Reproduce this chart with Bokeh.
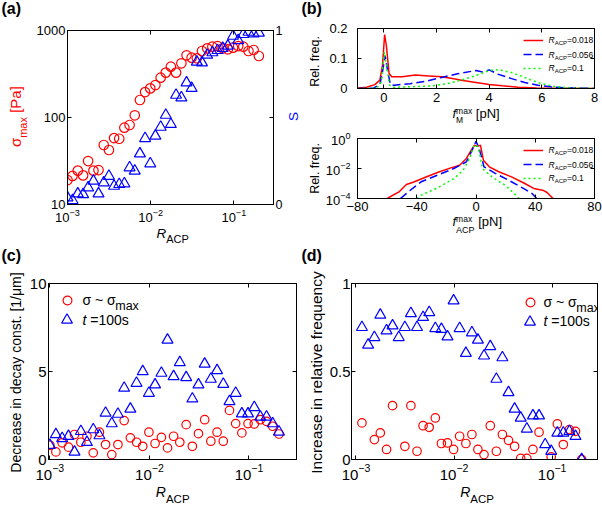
import math
from bokeh.plotting import figure
from bokeh.models import (Range1d, LinearAxis, LogAxis, FixedTicker, Label, Legend, LegendItem,
                          LinearScale, PrintfTickFormatter, CustomJSTickFormatter)
from bokeh.layouts import row, column
from bokeh.embed import file_html
from bokeh.resources import INLINE

# ---------------- data ----------------
r_acp = [0.00100, 0.00115, 0.00133, 0.00154, 0.00177, 0.00205, 0.00236, 0.00273, 0.00315, 0.00363,
         0.00419, 0.00483, 0.00558, 0.00644, 0.00743, 0.00857, 0.00989, 0.0114, 0.0132, 0.0152,
         0.0175, 0.0202, 0.0234, 0.0270, 0.0311, 0.0359, 0.0414, 0.0478, 0.0552, 0.0637,
         0.0735, 0.0848, 0.0978, 0.113, 0.130, 0.150, 0.173, 0.200]
r_acp_d = r_acp[1:]

sigma_max = [19.1, 21.3, 24.5, 21.6, 31.6, 24.5, 24.9, 48.3, 42.3, 58.0, 57.0, 76.4, 82.0, 106, 159,
             196, 216, 236, 287, 328, 384, 328, 420, 519, 487, 479, 581, 624, 652, 663, 624, 608,
             635, 663, 652, 581, 597, 509]
s_order = [0.039, 0.024, 0.062, 0.058, 0.097, 0.135, 0.062, 0.125, 0.163, 0.106, 0.116, 0.120,
           0.212, 0.193, 0.292, 0.380, 0.235, 0.394, 0.445, 0.514, 0.461, 0.629, 0.614, 0.700,
           0.668, 0.819, 0.815, 0.859, 0.873, 0.886, 0.898, 0.911, 0.968, 0.943, 0.978, 0.991,
           0.982, 0.986]

fm_x_018 = [-1, -0.65, -0.34, -0.15, -0.05, 0.03, 0.1, 0.2, 0.3, 0.7, 1.2, 1.7, 2.2, 2.6, 3.0,
            3.5, 4.0, 4.5, 5.1, 5.8, 6.8, 8.0]
fm_y_018 = [0.002, 0.004, 0.013, 0.028, 0.078, 0.18, 0.14, 0.05, 0.039, 0.039, 0.045, 0.042,
            0.039, 0.033, 0.027, 0.02, 0.013, 0.009, 0.0045, 0.002, 0.001, 0.0]
fm_x_056 = [-1, -0.4, -0.15, -0.05, 0.05, 0.15, 0.25, 0.4, 1.0, 1.6, 2.2, 2.8, 3.5, 3.75, 4.0,
            4.35, 4.85, 5.35, 5.85, 6.35, 6.95, 8.0]
fm_y_056 = [0.0, 0.001, 0.013, 0.056, 0.109, 0.056, 0.013, 0.011, 0.016, 0.024, 0.037, 0.049,
            0.06, 0.055, 0.062, 0.047, 0.033, 0.02, 0.011, 0.0056, 0.002, 0.0]
fm_x_1 = [-1, -0.27, -0.09, 0.02, 0.1, 0.22, 0.35, 1.1, 1.85, 2.45, 2.95, 3.45, 3.95, 4.2, 4.45,
          4.85, 5.2, 5.6, 5.95, 6.45, 7.05, 8.0]
fm_y_1 = [0.0, 0.001, 0.022, 0.122, 0.078, 0.011, 0.004, 0.006, 0.009, 0.017, 0.028, 0.042,
          0.058, 0.063, 0.061, 0.053, 0.042, 0.028, 0.017, 0.007, 0.002, 0.0]

fa_x_018 = [-60, -52, -47, -42, -35, -26, -17, -11, -6.5, -3, -1, 1, 3, 5, 9, 15, 24, 32, 39,
            45, 48, 52]
fa_y_018 = [1e-4, 2.75e-4, 8.5e-4, 1.26e-3, 2.4e-3, 5.4e-3, 0.011, 0.0166, 0.047, 0.18, 0.36,
            0.3, 0.36, 0.036, 0.0129, 0.0063, 0.00275, 0.00112, 0.00047, 0.00036, 0.00025, 1e-4]
fa_x_056 = [-51, -45, -37, -26, -15, -6.5, -2.6, 0, 2.2, 5.4, 13, 22, 32, 38, 41]
fa_y_056 = [1e-4, 3.2e-4, 1.3e-3, 3.6e-3, 0.01, 0.0275, 0.166, 0.66, 0.21, 0.013, 0.0047,
            0.00166, 0.00047, 0.00021, 1e-4]
fa_x_1 = [-40, -37, -26, -15, -8.6, -4.3, -1.7, 0.4, 2.2, 4.3, 10.8, 19.5, 26, 29]
fa_y_1 = [1e-4, 1.66e-4, 5.1e-4, 2.1e-3, 7.8e-3, 0.047, 0.275, 0.4, 0.129, 0.01, 0.00275,
          7.8e-4, 2.1e-4, 1e-4]

decay_sigma = [0.81, 0.43, 0.95, 0.70, 1.42, 0.98, 1.32, 0.38, 1.55, 0.85, 0.28, 0.85, 2.21, 1.23,
               0.98, 0.75, 1.55, 0.91, 1.26, 0.66, 1.32, 0.98, 1.98, 0.75, 1.47, 2.26, 1.04, 1.55,
               1.04, 2.79, 2.04, 1.51, 2.04, 2.02, 2.26, 2.17, 1.89, 1.45]
decay_t100 = [0.81, 1.42, 1.20, 1.32, 0.43, 1.60, 0.98, 1.70, 1.36, 2.64, 2.04, 2.58, 4.06, 2.87,
              4.34, 5.0, 3.77, 4.25, 4.91, 6.79, 4.72, 5.51, 4.66, 3.45, 4.25, 5.43, 4.57, 5.06,
              4.28, 3.30, 3.77, 2.60, 2.60, 2.96, 2.42, 2.42, 2.04, 1.57]

NaN = float("nan")
freq_sigma = [0.208, NaN, 0.113, 0.151, 0.057, 0.306, NaN, 0.075, 0.306, 0.047, 0.192, 0.183,
              0.236, 0.091, 0.094, 0.057, 0.132, 0.091, 0.142, 0.057, 0.028, 0.192, 0.047, 0.142,
              0.109, 0.075, 0.006, 0.006, 0.057, 0.155, NaN, 0.015, 0.202, 0.085, 0.170, 0.160, 0.0]
freq_t100 = [0.751, 0.651, 0.694, 0.821, 0.732, 0.760, 0.694, 0.751, 0.830, 0.751, 0.808, 0.836,
             0.745, 0.740, 0.698, 0.902, 0.745, 0.604, 0.721, 0.679, 0.589, 0.642, 0.457, 0.579,
             0.381, 0.287, 0.236, 0.174, 0.249, 0.249, 0.085, 0.047, 0.151, 0.151, 0.160, 0.132,
             0.0]

legend_vals = ["0.018", "0.056", "0.1"]

# ---------------- helpers ----------------
FONT = "Liberation Sans"
MID = 0.3465  # distance baseline -> middle of the text box, in em

CW = {' ': .278, '(': .333, ')': .333, '.': .278, '/': .278, '=': .584, '~': .584, '[': .278,
      ']': .278, '-': .333, 'A': .667, 'C': .722, 'D': .722, 'I': .278, 'M': .833, 'N': .722,
      'P': .667, 'R': .722, 'S': .667, 'a': .556, 'b': .556, 'c': .5, 'd': .556, 'e': .556,
      'f': .278, 'i': .222, 'l': .222, 'm': .833, 'n': .556, 'o': .556, 'p': .556, 'q': .556,
      'r': .333, 's': .5, 't': .278, 'u': .556, 'v': .5, 'x': .5, 'y': .5, 'σ': .6, 'μ': .576}


def tw(s, size):
    return sum(CW.get(c, .556) for c in s) * size


def make_panel(left, top, w, h, bl, br, bt, bb, xr, yr, xt="linear", yt="linear"):
    p = figure(width=w, height=h, x_range=xr, y_range=yr, x_axis_type=xt, y_axis_type=yt,
               output_backend="svg", toolbar_location=None,
               min_border_left=bl, min_border_right=br, min_border_top=bt, min_border_bottom=bb)
    p.grid.visible = False
    p.outline_line_color = "black"
    p.outline_line_width = 1
    p.background_fill_color = "white"
    p.border_fill_color = "white"
    fh = h - bt - bb
    return p, (left + bl, top + bt + fh)


def make_strip(left, top, w, h, bl=0, br=0):
    """text-only figure; bl/br equal to the plot above it so that aligned borders match"""
    p = figure(width=w, height=h, x_range=Range1d(0, 1), y_range=Range1d(0, 1),
               x_axis_location=None, y_axis_location=None, output_backend="svg",
               toolbar_location=None, min_border=0, min_border_left=bl, min_border_right=br,
               min_border_top=0, min_border_bottom=0)
    p.grid.visible = False
    p.outline_line_color = None
    p.background_fill_color = "white"
    p.border_fill_color = "white"
    return p, (left + bl, top + h)


def style(ax, ticks, size, standoff, labels=True):
    ax.ticker = FixedTicker(ticks=ticks, minor_ticks=[])
    ax.major_tick_in = 4
    ax.major_tick_out = 0
    ax.minor_tick_in = 0
    ax.minor_tick_out = 0
    ax.axis_line_color = "black"
    ax.major_tick_line_color = "black"
    ax.major_label_text_font = FONT
    ax.major_label_text_font_size = f"{size}px"
    ax.major_label_text_color = "black"
    ax.major_label_standoff = standoff
    if not labels:
        ax.formatter = CustomJSTickFormatter(code="return ''")
        ax.major_label_standoff = 0


def mirror(p, side, ticks, log=False):
    ax = LogAxis() if log else LinearAxis()
    style(ax, ticks, 1, 0, labels=False)
    p.add_layout(ax, side)


def rich(p, frame, x, y, parts, color="black", vertical=False, center=False):
    """parts: (text, size, style, baseline shift, mode) - mode n: advance, 0: none, s: stacked.
    x, y: start of the baseline (page pixels)."""
    fl, fb = frame
    total, pend = 0.0, 0.0
    for t, s, st, dy, mode in parts:
        w = tw(t, s)
        if mode == "0":
            pend = w
        elif mode == "s":
            total += max(w, pend)
            pend = 0
        else:
            total += w
    px0, py0 = x, y
    if center:
        if vertical:
            py0 += total / 2
        else:
            px0 -= total / 2
    adv, pend = 0.0, 0.0
    for t, s, st, dy, mode in parts:
        w = tw(t, s)
        body = t.lstrip(" ")
        lead = tw(t[:len(t) - len(body)], s)
        if vertical:
            qx = px0 + dy - MID * s
            qy = py0 - adv - lead - tw(body, s) / 2
            lab = Label(x=qx - fl, y=fb - qy, x_units="screen", y_units="screen", text=body,
                        angle=math.pi / 2, text_font=FONT, text_font_size=f"{s}px",
                        text_font_style=st, text_color=color, text_align="center",
                        text_baseline="middle")
        else:
            qx, qy = px0 + adv + lead, py0 + dy - MID * s
            lab = Label(x=qx - fl, y=fb - qy, x_units="screen", y_units="screen", text=body,
                        angle=0.0, text_font=FONT, text_font_size=f"{s}px",
                        text_font_style=st, text_color=color, text_align="left",
                        text_baseline="middle")
        p.add_layout(lab)
        if mode == "0":
            pend = w
        elif mode == "s":
            adv += max(w, pend)
            pend = 0
        else:
            adv += w


def legend_glyph(p, frame, renderer, cx, cy, gw, gh):
    fl, fb = frame
    x = cx - fl - gw / 2
    y = fb - cy - gh / 2
    lg = Legend(items=[LegendItem(label=" ", renderers=[renderer])], location=(x, y),
                orientation="vertical", padding=0, margin=0, spacing=0,
                glyph_width=gw, glyph_height=gh, label_standoff=0, label_width=0,
                label_height=0, label_text_font_size="1px", border_line_color=None,
                background_fill_color=None, background_fill_alpha=0)
    p.add_layout(lg)


def racp(p, frame, x, y, dy=6.0, size=14, sub=11.5):
    rich(p, frame, x, y, [("R", size, "italic", 0, "n"), ("ACP", sub, "normal", dy, "n")])


def letter(p, frame, x, y, t):
    rich(p, frame, x, y, [(t, 16, "bold", 0, "n")])


# ---------------- panel (a) ----------------
sla, f_sla = make_strip(0, 0, 33, 246)
pa, fa = make_panel(33, 0, 252, 224, 32, 9, 30, 20, Range1d(1e-3, 0.3), Range1d(10, 1000),
                    "log", "log")
sba, f_sba = make_strip(33, 224, 252, 22, 32, 9)
sra, f_sra = make_strip(285, 0, 15, 246)

pa.extra_y_ranges = {"s": Range1d(0, 1)}
pa.extra_y_scales = {"s": LinearScale()}
style(pa.xaxis[0], [1e-3, 1e-2, 1e-1], 13, 4)
style(pa.yaxis[0], [10, 100, 1000], 13, 2)
pa.yaxis[0].formatter = PrintfTickFormatter(format="%d")
ax_s = LinearAxis(y_range_name="s")
style(ax_s, [0, 0.5, 1], 12.5, 2)
ax_s.major_label_overrides = {0: "0", 0.5: "", 1: "1"}
pa.add_layout(ax_s, "right")
mirror(pa, "above", [1e-3, 1e-2, 1e-1], log=True)
pa.scatter(r_acp, sigma_max, marker="circle", size=9.5, fill_color=None, line_color="red",
           line_width=1.2)
pa.scatter(r_acp, s_order, marker="triangle", size=11, fill_color=None, line_color="blue",
           line_width=1.2, y_range_name="s")
letter(sla, f_sla, 1, 14, "(a)")
rich(sla, f_sla, 20.5, 116, [("σ", 15, "normal", 0, "n"), ("max", 11, "normal", 6, "n"),
                             (" [Pa]", 15, "normal", 0, "n")], color="red", vertical=True,
     center=True)
racp(sba, f_sba, 154, 237.3, dy=5.5, size=13.5, sub=11)
rich(sra, f_sra, 297.5, 116, [("S", 13.5, "normal", 0, "n")], color="blue", vertical=True,
     center=True)

# ---------------- panel (b) ----------------
slb, f_slb = make_strip(300, 0, 22, 246)
pb1, fb1 = make_panel(322, 0, 280, 106, 32, 8, 28, 18, Range1d(-1, 8), Range1d(0, 0.2))
sbb1, f_sbb1 = make_strip(322, 106, 280, 20, 32, 8)
pb2, fb2 = make_panel(322, 126, 280, 89, 32, 8, 12, 17, Range1d(-80, 80), Range1d(1e-4, 1),
                      "linear", "log")
sbb2, f_sbb2 = make_strip(322, 215, 280, 31, 32, 8)

style(pb1.xaxis[0], [0, 2, 4, 6, 8], 13, 4)
style(pb1.yaxis[0], [0, 0.1, 0.2], 13, 10)
pb1.yaxis[0].major_label_overrides = {0: "0", 0.1: "0.1", 0.2: "0.2"}
mirror(pb1, "above", [0, 2, 4, 6, 8])
mirror(pb1, "right", [0, 0.1, 0.2])
l1 = pb1.line(fm_x_018, fm_y_018, line_color="red", line_width=1.5)
l2 = pb1.line(fm_x_056, fm_y_056, line_color="blue", line_width=1.5, line_dash="8 4")
l3 = pb1.line(fm_x_1, fm_y_1, line_color="#00ff00", line_width=1.5, line_dash="2 3")

style(pb2.xaxis[0], [-80, -40, 0, 40, 80], 13, 3)
pb2.xaxis[0].major_label_overrides = {-80: "\u221280", -40: "\u221240", 0: "0", 40: "40",
                                      80: "80"}
style(pb2.yaxis[0], [1e-4, 1e-2, 1], 13, 7)
mirror(pb2, "above", [-80, -40, 0, 40, 80])
mirror(pb2, "right", [1e-4, 1e-2, 1], log=True)
m1 = pb2.line(fa_x_018, fa_y_018, line_color="red", line_width=1.5)
m2 = pb2.line(fa_x_056, fa_y_056, line_color="blue", line_width=1.5, line_dash="8 4")
m3 = pb2.line(fa_x_1, fa_y_1, line_color="#00ff00", line_width=1.5, line_dash="2 3")

letter(slb, f_slb, 301, 14, "(b)")
rich(slb, f_slb, 319, 61, [("Rel. freq.", 12.5, "normal", 0, "n")], vertical=True, center=True)
rich(slb, f_slb, 319, 168, [("Rel. freq.", 12.5, "normal", 0, "n")], vertical=True,
     center=True)
rich(sbb1, f_sbb1, 449, 118, [("f", 13, "italic", 0, "n"), ("max", 8.5, "normal", -5, "0"),
                              ("M", 8.5, "normal", 4.5, "s"), (" [pN]", 13, "normal", 0, "n")])
rich(sbb2, f_sbb2, 449, 226, [("f", 13, "italic", 0, "n"), ("max", 8.5, "normal", -5, "0"),
                              ("ACP", 9, "normal", 6.5, "s"), (" [pN]", 13, "normal", 0, "n")])

for p_, f_, rends, ys in ((pb1, fb1, (l1, l2, l3), (40, 54.3, 67.7)),
                          (pb2, fb2, (m1, m2, m3), (150, 164.3, 177.7))):
    for rnd, yy, val in zip(rends, ys, legend_vals):
        legend_glyph(p_, f_, rnd, 530, yy, 20, 4)
        rich(p_, f_, 545, yy + 2.7, [("R", 8.5, "italic", 0, "n"),
                                     ("ACP", 6, "normal", 2.2, "n"),
                                     ("=" + val, 8.5, "normal", 0, "n")])

# ---------------- panel (c) ----------------
slc, f_slc = make_strip(0, 246, 26, 260)
pc, fc = make_panel(26, 246, 274, 236, 20, 4, 37, 22, Range1d(0.00097, 0.3), Range1d(0, 10),
                    "log", "linear")
sbc, f_sbc = make_strip(26, 482, 274, 24, 20, 4)
style(pc.xaxis[0], [1e-3, 1e-2, 1e-1], 15, 4)
style(pc.yaxis[0], [0, 5, 10], 15, 2)
mirror(pc, "above", [1e-3, 1e-2, 1e-1], log=True)
mirror(pc, "right", [0, 5, 10])
c1 = pc.scatter(r_acp, decay_sigma, marker="circle", size=8.5, fill_color=None, line_color="red",
                line_width=1.2)
c2 = pc.scatter(r_acp, decay_t100, marker="triangle", size=11, fill_color=None, line_color="blue",
                line_width=1.2)
letter(slc, f_slc, 1, 260.6, "(c)")
rich(slc, f_slc, 20, 372, [("Decrease in decay const. [1/μm]", 14, "normal", 0, "n")],
     vertical=True, center=True)
racp(sbc, f_sbc, 153.3, 496.5)
legend_glyph(pc, fc, c1, 64.7, 300.7, 22, 22)
legend_glyph(pc, fc, c2, 64.7, 320.7, 27, 27)
rich(pc, fc, 80, 305, [("σ ~ σ", 14, "normal", 0, "n"), ("max", 12.5, "normal", 5.5, "n")])
rich(pc, fc, 80, 325, [("t", 14, "italic", 0, "n"), (" =100s", 14, "normal", 0, "n")])

# ---------------- panel (d) ----------------
sld, f_sld = make_strip(300, 246, 26, 260)
pd, fd = make_panel(326, 246, 276, 236, 22, 5, 37, 22, Range1d(0.0009, 0.29), Range1d(0, 1),
                    "log", "linear")
sbd, f_sbd = make_strip(326, 482, 276, 24, 22, 5)
style(pd.xaxis[0], [1e-3, 1e-2, 1e-1], 15, 4)
style(pd.yaxis[0], [0, 0.5, 1], 15, 1)
pd.yaxis[0].major_label_overrides = {0: "0", 0.5: "0.5", 1: "1"}
mirror(pd, "above", [1e-3, 1e-2, 1e-1], log=True)
mirror(pd, "right", [0, 0.5, 1])
d1 = pd.scatter(r_acp_d, freq_sigma, marker="circle", size=8.5, fill_color=None,
                line_color="red", line_width=1.2)
d2 = pd.scatter(r_acp_d, freq_t100, marker="triangle", size=11, fill_color=None,
                line_color="blue", line_width=1.2)
letter(sld, f_sld, 301, 260.6, "(d)")
rich(sld, f_sld, 321, 372, [("Increase in relative frequency", 15.5, "normal", 0, "n")],
     vertical=True, center=True)
racp(sbd, f_sbd, 456.7, 496.5)
legend_glyph(pd, fd, d1, 526.7, 302.7, 22, 22)
legend_glyph(pd, fd, d2, 526.7, 322.3, 27, 27)
rich(pd, fd, 540, 307, [("σ ~ σ", 14, "normal", 0, "n"), ("max", 12.5, "normal", 5.5, "n")])
rich(pd, fd, 540, 326.5, [("t", 14, "italic", 0, "n"), (" =100s", 14, "normal", 0, "n")])

grp_a = row(sla, column(pa, sba), sra)
grp_b = row(slb, column(pb1, sbb1, pb2, sbb2))
grp_c = row(slc, column(pc, sbc))
grp_d = row(sld, column(pd, sbd))
layout = column(row(grp_a, grp_b), row(grp_c, grp_d))
open("out.html", "w").write(file_html(layout, INLINE))
